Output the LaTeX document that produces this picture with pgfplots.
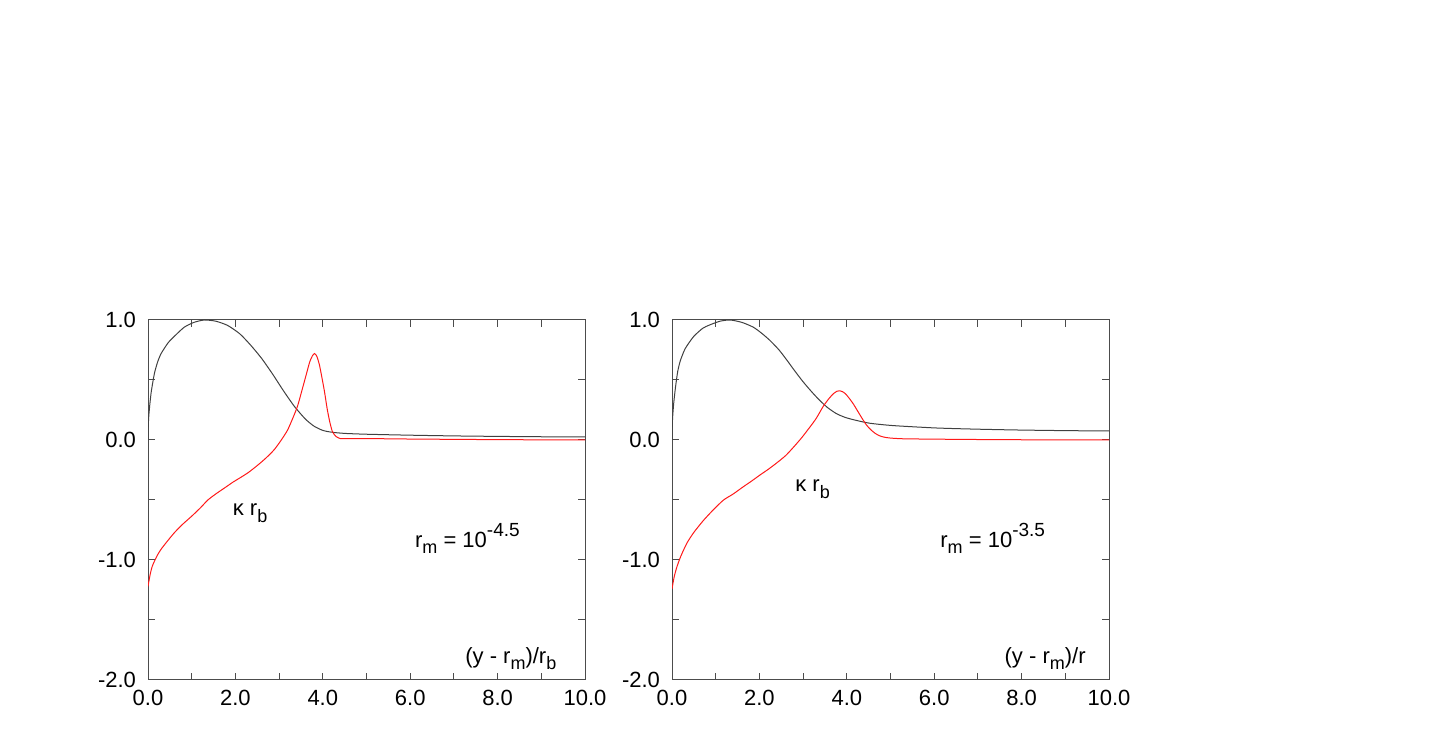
\documentclass[border=0pt]{standalone}
\usepackage{pgfplots}
\pgfplotsset{compat=1.18}
\usepackage{fontspec}
\setmainfont{Liberation Sans}

% sub- and superscripts a bit larger than \textsubscript gives
\newcommand{\sub}[1]{\raisebox{-3.2pt}{\fontsize{9}{10}\selectfont #1}}
\newcommand{\sups}[1]{\raisebox{5.5pt}{\fontsize{9.5}{10}\selectfont #1}}

\tikzset{lab/.style={anchor=west, font=\fontsize{11}{13}\selectfont}}

% shared look of both panels
\pgfplotsset{
  panel/.style={
    scale only axis,
    width=218.5pt, height=180pt,
    anchor=south west,
    xmin=0, xmax=10, ymin=-2, ymax=1,
    xtick={0,2,4,6,8,10},
    xticklabels={0.0,2.0,4.0,6.0,8.0,10.0},
    minor xtick={1,3,5,7,9},
    ytick={-2,-1,0,1},
    yticklabels={-2.0,-1.0,0.0,1.0},
    minor ytick={-1.5,-0.5,0.5},
    tick align=inside,
    major tick length=3.5pt, minor tick length=3.5pt,
    every tick/.style={black!70, line width=0.5pt},
    axis line style={black!70, line width=0.5pt},
    tick label style={font=\fontsize{11}{13}\selectfont},
    xticklabel style={yshift=-1.5pt},
    yticklabel style={xshift=-2.5pt},
    clip=true,
  },
  kapline/.style={black!75, line width=0.5pt, smooth, tension=0.4},
  redline/.style={red!90, line width=0.5pt, smooth, tension=0.4},
}

\begin{document}
\begin{tikzpicture}
\path[use as bounding box] (0pt,0pt) rectangle (717pt,371pt);

% ---- left panel: r_m = 10^-4.5
\begin{axis}[panel, at={(74pt,31pt)}]
\addplot[kapline] coordinates {
(0,0) (0.005,0.1) (0.01,0.15) (0.02,0.21) (0.04,0.29) (0.07,0.39) (0.1,0.46)
(0.15,0.56) (0.22,0.65) (0.3,0.72) (0.46,0.81) (0.62,0.87) (0.83,0.94)
(1.05,0.98) (1.29,1.0) (1.55,0.99) (1.82,0.955) (2.1,0.885) (2.35,0.79)
(2.6,0.68) (2.85,0.55) (3.1,0.41) (3.35,0.28) (3.6,0.175) (3.8,0.115)
(4.0,0.08) (4.2,0.065) (4.5,0.055) (5,0.048) (6,0.04) (7,0.034) (8,0.03)
(9,0.027) (10,0.025)};
\addplot[redline] coordinates {
(0,-1.22) (0.05,-1.12) (0.1,-1.05) (0.2,-0.97) (0.3,-0.91) (0.45,-0.84)
(0.61,-0.77) (0.8,-0.7) (1.0,-0.635) (1.2,-0.565) (1.37,-0.5) (1.55,-0.45)
(1.75,-0.40) (1.95,-0.35) (2.13,-0.31) (2.3,-0.27) (2.51,-0.21) (2.7,-0.15)
(2.89,-0.08) (3.05,0.0) (3.19,0.08) (3.3,0.17) (3.42,0.28) (3.52,0.41)
(3.61,0.53) (3.7,0.65) (3.76,0.70) (3.81,0.72) (3.86,0.70) (3.92,0.63)
(3.98,0.52) (4.04,0.40) (4.1,0.26) (4.16,0.15) (4.22,0.07) (4.3,0.03)
(4.4,0.012) (4.55,0.012) (5,0.012) (6,0.008) (8,0.003) (10,0.0)};
\node[lab] at (axis cs:1.78,-0.61) {κ r\sub{b}};
\node[lab] at (axis cs:5.95,-0.82) {r\sub{m} = 10\sups{-4.5}};
\node[lab] at (axis cs:7.1,-1.82) {(y - r\sub{m})/r\sub{b}};
\end{axis}

% ---- right panel: r_m = 10^-3.5
\begin{axis}[panel, at={(336pt,31pt)}]
\addplot[kapline] coordinates {
(0,0) (0.005,0.1) (0.01,0.16) (0.02,0.22) (0.04,0.31) (0.08,0.44) (0.13,0.57)
(0.19,0.66) (0.3,0.76) (0.49,0.86) (0.7,0.93) (0.87,0.96) (1.1,0.99)
(1.33,1.0) (1.6,0.98) (1.86,0.94) (2.05,0.89) (2.24,0.83) (2.45,0.75)
(2.62,0.67) (2.8,0.58) (3.0,0.485) (3.2,0.40) (3.38,0.33) (3.56,0.27)
(3.76,0.22) (3.95,0.19) (4.14,0.17) (4.52,0.14) (5.06,0.12) (6.05,0.10)
(7,0.09) (7.95,0.083) (9,0.078) (10,0.075)};
\addplot[redline] coordinates {
(0,-1.24) (0.05,-1.14) (0.11,-1.06) (0.2,-0.97) (0.34,-0.86) (0.5,-0.77)
(0.72,-0.67) (0.95,-0.58) (1.18,-0.5) (1.4,-0.45) (1.63,-0.39) (1.83,-0.34)
(2.02,-0.29) (2.2,-0.245) (2.4,-0.19) (2.6,-0.13) (2.78,-0.06) (2.97,0.02)
(3.16,0.11) (3.3,0.18) (3.46,0.28) (3.58,0.34) (3.69,0.385) (3.78,0.407)
(3.84,0.41) (3.9,0.403) (3.97,0.385) (4.05,0.35) (4.15,0.30) (4.25,0.24)
(4.35,0.18) (4.45,0.125) (4.55,0.085) (4.65,0.055) (4.75,0.035)
(4.85,0.024) (5.0,0.016) (5.3,0.01) (6,0.007) (7,0.004) (8,0.002) (10,0.0)};
\node[lab] at (axis cs:2.66,-0.41) {κ r\sub{b}};
\node[lab] at (axis cs:5.98,-0.82) {r\sub{m} = 10\sups{-3.5}};
\node[lab] at (axis cs:7.45,-1.82) {(y - r\sub{m})/r};
\end{axis}
\end{tikzpicture}
\end{document}
